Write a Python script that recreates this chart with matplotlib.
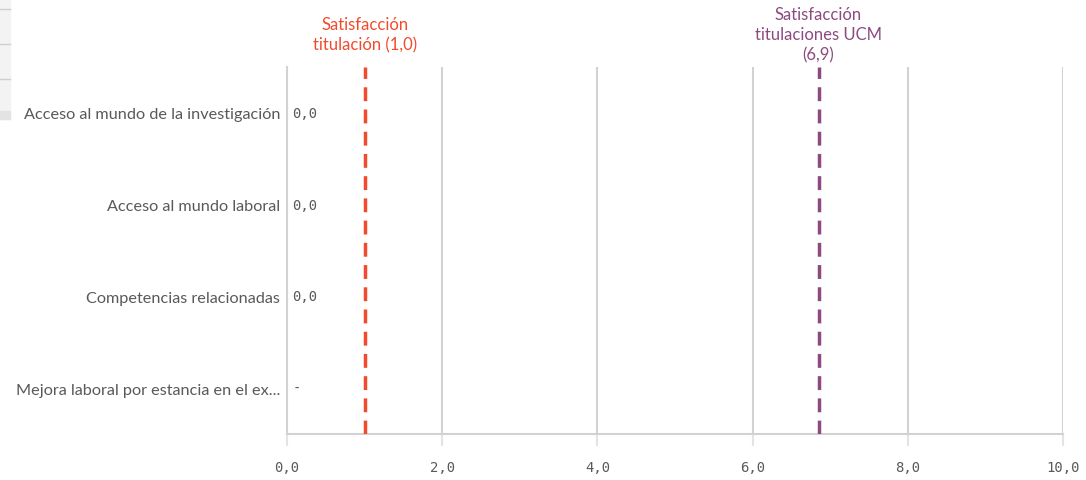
import matplotlib.pyplot as plt
from matplotlib.patches import Rectangle
from matplotlib.lines import Line2D

# data
categories = [
    "Acceso al mundo de la investigación",
    "Acceso al mundo laboral",
    "Competencias relacionadas",
    "Mejora laboral por estancia en el ex...",
]
values = [0.0, 0.0, 0.0, None]
ref_values = [1.0, 6.85]
ref_labels = ["Satisfacción\ntitulación (1,0)", "Satisfacción\ntitulaciones UCM\n(6,9)"]
ref_colors = ["#f24a2c", "#8d4a80"]
xticks = [0, 2, 4, 6, 8, 10]
xtick_labels = ["0,0", "2,0", "4,0", "6,0", "8,0", "10,0"]

label_font = "Lato"
mono_font = "DejaVu Sans Mono"
gray = "#595959"
grid_gray = "#d2d2d2"

fig = plt.figure(figsize=(10.86, 4.81), dpi=100)
ax = fig.add_axes([287 / 1086, 1 - 435 / 481, 776 / 1086, 367 / 481])

# left-edge ui fragment
fig.patches.append(Rectangle((0, 1 - 120 / 481), 10 / 1086, 120 / 481,
                             transform=fig.transFigure, color="#f3f3f3", zorder=0))
fig.patches.append(Rectangle((0, 1 - 120 / 481), 10 / 1086, 8 / 481,
                             transform=fig.transFigure, color="#e3e3e3", zorder=0))
for yy in [10, 45, 80]:
    fig.lines.append(Line2D([0, 10 / 1086], [1 - yy / 481] * 2, transform=fig.transFigure,
                            color="#cfcfcf", lw=1))

ypos = list(range(len(categories)))
ax.barh(ypos, [v if v is not None else 0 for v in values], height=0.6, color="#4477aa")
ax.set_ylim(len(categories) - 0.5, -0.5)
ax.set_xlim(0, 10)

ax.set_yticks(ypos)
ax.set_yticklabels(categories, fontfamily=label_font, fontsize=11.7, color=gray)
ax.tick_params(axis="y", length=0, pad=5)

ax.set_xticks(xticks)
ax.set_xticklabels(xtick_labels, fontfamily=mono_font, fontsize=10, color=gray)
ax.tick_params(axis="x", length=8.5, width=1.5, color="#e4e4e4", pad=10)

ax.grid(axis="x", color=grid_gray, lw=1.5)
ax.set_axisbelow(True)
for s in ["top", "right"]:
    ax.spines[s].set_visible(False)
ax.spines["left"].set_color(grid_gray)
ax.spines["left"].set_linewidth(1.5)
ax.spines["bottom"].set_color(grid_gray)
ax.spines["bottom"].set_linewidth(1.5)

for i, v in enumerate(values):
    txt = "-" if v is None else f"{v:.1f}".replace(".", ",")
    ax.text(0.07, i, txt, va="center", ha="left", fontfamily=mono_font, fontsize=10, color=gray)

for rv, lab, col in zip(ref_values, ref_labels, ref_colors):
    ax.axvline(rv, color=col, lw=2.5, ls=(0, (4, 2.4)), zorder=3)
    ax.text(rv, 1 + 33 / 367, lab, transform=ax.get_xaxis_transform(), ha="center", va="center",
            fontfamily=label_font, fontsize=12, color=col, linespacing=1.3, clip_on=False)

fig.savefig("out.png", dpi=100)
